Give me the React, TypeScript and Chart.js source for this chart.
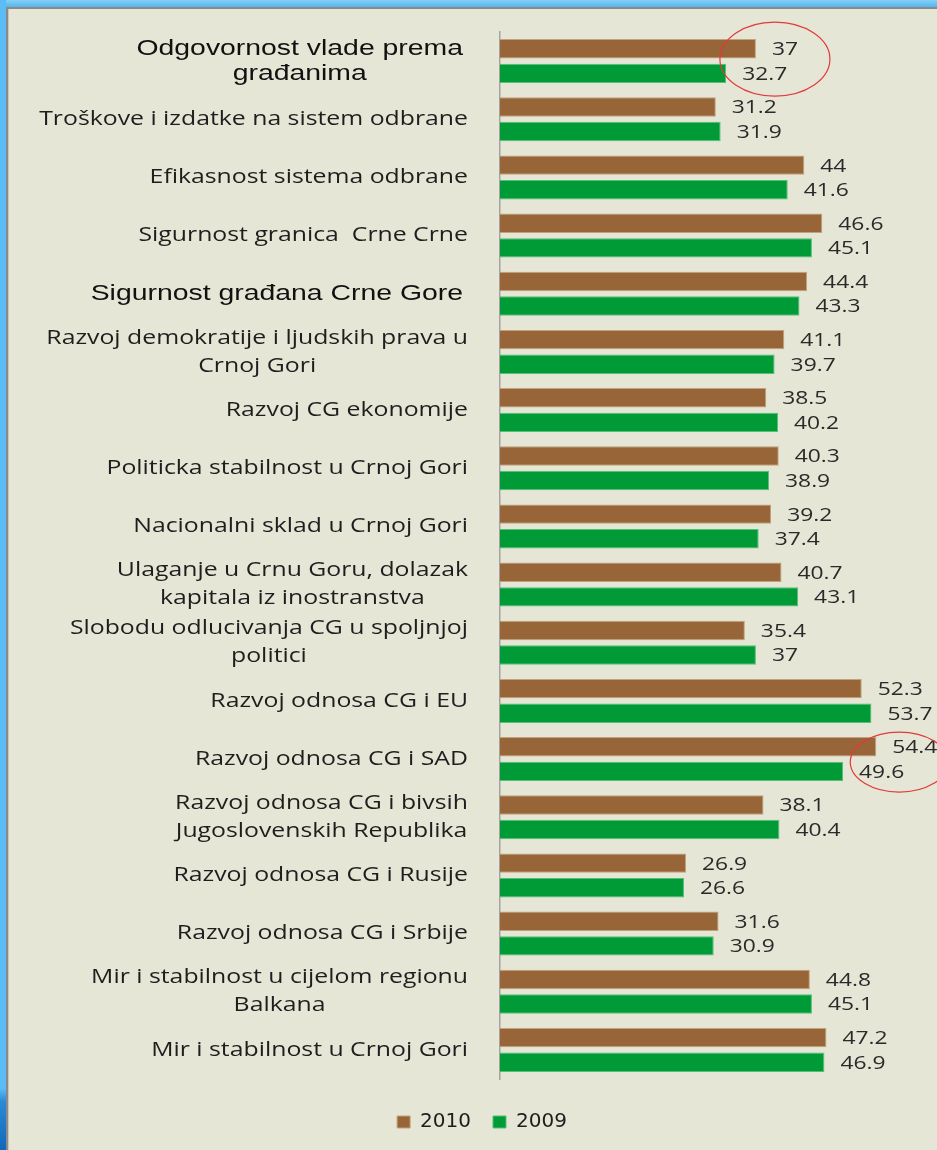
import React, { useEffect, useRef } from "react";
import { Chart, registerables } from "chart.js";

Chart.register(...registerables);

const categories: string[] = [
  "Odgovornost vlade prema\ngrađanima",
  "Troškove i izdatke na sistem odbrane",
  "Efikasnost sistema odbrane",
  "Sigurnost granica  Crne Crne",
  "Sigurnost građana Crne Gore",
  "Razvoj demokratije i ljudskih prava u\nCrnoj Gori",
  "Razvoj CG ekonomije",
  "Politicka stabilnost u Crnoj Gori",
  "Nacionalni sklad u Crnoj Gori",
  "Ulaganje u Crnu Goru, dolazak\nkapitala iz inostranstva",
  "Slobodu odlucivanja CG u spoljnjoj\npolitici",
  "Razvoj odnosa CG i EU",
  "Razvoj odnosa CG i SAD",
  "Razvoj odnosa CG i bivsih\nJugoslovenskih Republika",
  "Razvoj odnosa CG i Rusije",
  "Razvoj odnosa CG i Srbije",
  "Mir i stabilnost u cijelom regionu\nBalkana",
  "Mir i stabilnost u Crnoj Gori",
];

const values2010: number[] = [37, 31.2, 44, 46.6, 44.4, 41.1, 38.5, 40.3, 39.2, 40.7, 35.4, 52.3, 54.4, 38.1, 26.9, 31.6, 44.8, 47.2];
const values2009: number[] = [32.7, 31.9, 41.6, 45.1, 43.3, 39.7, 40.2, 38.9, 37.4, 43.1, 37, 53.7, 49.6, 40.4, 26.6, 30.9, 45.1, 46.9];
const seriesNames: string[] = ["2010", "2009"];
const emphasizedCategories: number[] = [0, 4];
const circledCategories: number[] = [0, 12];
const xMin = 0;
const xMax = 60;

const BROWN = "#976537";
const GREEN = "#009b37";
const TEXT = "#1e1e1e";
const ellipseStyle = [
  { rx: 55, ry: 37, dx: 19, dy: -2 },
  { rx: 49, ry: 30, dx: 23, dy: 3 },
];

function drawStretched(ctx: CanvasRenderingContext2D, text: string, x: number, y: number, sx: number, align: CanvasTextAlign) {
  ctx.save();
  ctx.translate(x, y);
  ctx.scale(sx, 1);
  ctx.textAlign = align;
  ctx.textBaseline = "middle";
  ctx.fillText(text, 0, 0);
  ctx.restore();
}

const labelsPlugin = {
  id: "customLabels",
  afterDatasetsDraw(chart: any) {
    const ctx: CanvasRenderingContext2D = chart.ctx;
    const yScale = chart.scales.y;
    const xScale = chart.scales.x;
    const left = chart.chartArea.left;

    // category labels
    categories.forEach((cat, i) => {
      const lines = cat.split("\n");
      const bold = emphasizedCategories.includes(i);
      ctx.save();
      ctx.font = bold ? '22px "Liberation Sans"' : '20px "Open Sans"';
      ctx.fillStyle = bold ? "#111111" : TEXT;
      const sx = bold ? 1.29 : 1.24;
      const lh = bold ? 25 : 28;
      const rightEdge = left - (bold ? 37 : 32);
      const maxW = Math.max(...lines.map((l) => ctx.measureText(l).width * sx));
      const cx = rightEdge - maxW / 2;
      const cy = yScale.getPixelForValue(i);
      lines.forEach((l, k) => {
        const ly = cy + (k - (lines.length - 1) / 2) * lh;
        drawStretched(ctx, l, cx, ly, sx, "center");
      });
      ctx.restore();
    });

    // value labels
    ctx.save();
    ctx.font = '19px "Open Sans"';
    ctx.fillStyle = "#2a2a2a";
    chart.data.datasets.forEach((ds: any, di: number) => {
      const meta = chart.getDatasetMeta(di);
      meta.data.forEach((bar: any, i: number) => {
        drawStretched(ctx, String(ds.data[i]), bar.x + 16, bar.y + 1, 1.2, "left");
      });
    });
    ctx.restore();

    // red ellipses
    ctx.save();
    ctx.strokeStyle = "#e23a3a";
    ctx.lineWidth = 1.2;
    circledCategories.forEach((ci, k) => {
      const st = ellipseStyle[k];
      const mx = Math.max(values2010[ci], values2009[ci]);
      const cx = xScale.getPixelForValue(mx) + st.dx;
      const cy = yScale.getPixelForValue(ci) + st.dy;
      ctx.beginPath();
      ctx.ellipse(cx, cy, st.rx, st.ry, 0, 0, Math.PI * 2);
      ctx.stroke();
    });
    ctx.restore();
  },
};

export default function App() {
  const ref = useRef<HTMLCanvasElement>(null);

  useEffect(() => {
    if (!ref.current) return;
    const chart = new Chart(ref.current, {
      type: "bar",
      data: {
        labels: categories,
        datasets: [
          {
            label: seriesNames[0],
            data: values2010,
            backgroundColor: BROWN,
            borderColor: "#c2a27c",
            borderWidth: 1,
            barPercentage: 0.79,
            categoryPercentage: 0.845,
          },
          {
            label: seriesNames[1],
            data: values2009,
            backgroundColor: GREEN,
            borderColor: "#55bf78",
            borderWidth: 1,
            barPercentage: 0.79,
            categoryPercentage: 0.845,
          },
        ],
      },
      options: {
        indexAxis: "y",
        responsive: false,
        animation: false,
        devicePixelRatio: 1,
        layout: { padding: { left: 49, right: 22, top: 32, bottom: 8 } },
        scales: {
          x: {
            min: xMin,
            max: xMax,
            display: true,
            grid: { display: false },
            border: { display: false },
            ticks: { display: false },
            afterFit: (s: any) => {
              s.height = 11;
            },
          },
          y: {
            display: true,
            grid: { display: false },
            border: { display: true, color: "#a3a3a3", width: 1.5 },
            ticks: { display: false },
            afterFit: (s: any) => {
              s.width = 451;
            },
          },
        },
        plugins: {
          legend: {
            display: true,
            position: "bottom",
            labels: {
              boxWidth: 13,
              boxHeight: 12,
              padding: 22,
              color: TEXT,
              font: { family: '"DejaVu Sans"', size: 20 },
            },
          },
          tooltip: { enabled: false },
        },
      },
      plugins: [labelsPlugin],
    } as any);
    return () => chart.destroy();
  }, []);

  return (
    <div
      style={{
        position: "absolute",
        left: 0,
        top: 0,
        width: 937,
        height: 1150,
        background: "#e5e6d6",
        overflow: "hidden",
      }}
    >
      <canvas ref={ref} width={937} height={1150} style={{ position: "absolute", left: 0, top: 0, width: 937, height: 1150 }} />
      <div style={{ position: "absolute", left: 0, top: 0, width: 937, height: 7, background: "linear-gradient(#86d0f8, #52b6ee)" }} />
      <div style={{ position: "absolute", left: 6, top: 7, width: 931, height: 2, background: "#8a8a8a" }} />
      <div
        style={{
          position: "absolute",
          left: 0,
          top: 0,
          width: 6,
          height: 1150,
          background: "linear-gradient(to bottom, #5cbdf6 0%, #5cbdf6 94.6%, #2a8ad8 95.8%, #1068b8 100%)",
        }}
      />
      <div style={{ position: "absolute", left: 6, top: 7, width: 2, height: 1143, background: "#8a8a8a" }} />
      <div style={{ position: "absolute", left: 8, top: 9, width: 1, height: 1141, background: "#c8c8c0" }} />
    </div>
  );
}
